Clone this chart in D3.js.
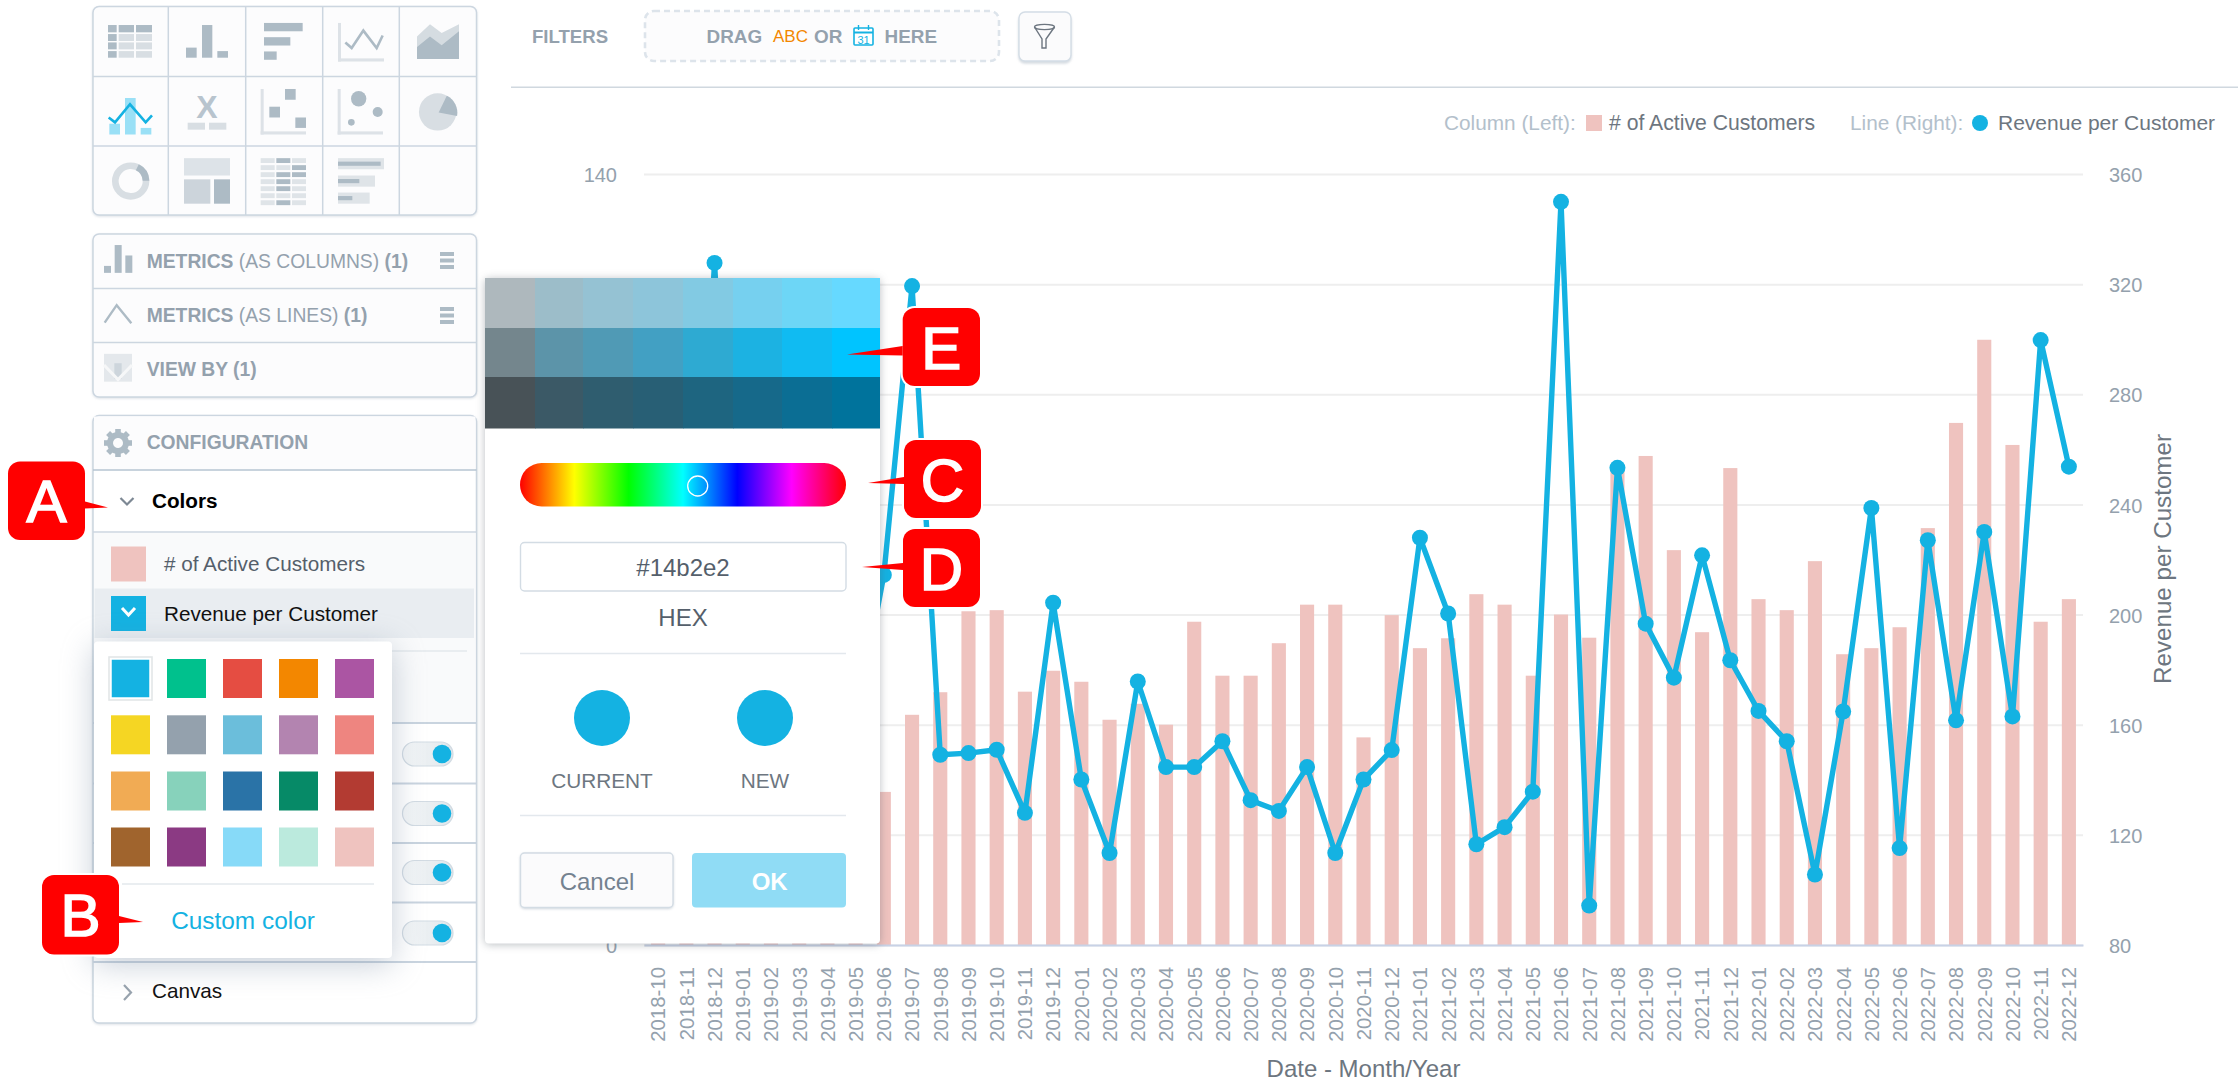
<![CDATA[<!DOCTYPE html>
<html><head><meta charset="utf-8">
<script src="https://cdn.jsdelivr.net/npm/d3@7/dist/d3.min.js"></script>
<style>
html,body{margin:0;padding:0;background:#fff;overflow:hidden}
svg{display:block;font-family:"Liberation Sans",Arial,sans-serif}
</style></head><body><svg id="c" width="2238" height="1090"></svg>
<script>
const months=["2018-10","2018-11","2018-12","2019-01","2019-02","2019-03","2019-04","2019-05","2019-06","2019-07","2019-08","2019-09","2019-10","2019-11","2019-12","2020-01","2020-02","2020-03","2020-04","2020-05","2020-06","2020-07","2020-08","2020-09","2020-10","2020-11","2020-12","2021-01","2021-02","2021-03","2021-04","2021-05","2021-06","2021-07","2021-08","2021-09","2021-10","2021-11","2021-12","2022-01","2022-02","2022-03","2022-04","2022-05","2022-06","2022-07","2022-08","2022-09","2022-10","2022-11","2022-12"];
const activeCustomers=[30,32,34,30,28,31,29,30,27.8,41.8,45.9,60.6,60.8,46,49.8,47.8,40.9,43.8,40,58.7,48.9,48.9,54.8,61.8,61.8,37.7,59.9,53.9,55.7,63.7,61.8,48.9,60,55.8,86.6,88.8,71.7,56.8,86.6,62.8,60.8,69.7,52.8,53.9,57.7,75.7,94.8,109.9,90.8,58.7,62.8];
const revenuePerCustomer=[170,150,327.7,140,130,150,130,160,214.4,319.3,149.1,149.7,150.9,128,204.3,140.1,113.4,175.7,144.6,144.6,154,132.6,128.7,144.6,113.4,140.1,150.8,227.9,200.4,116.6,122.8,135.7,349.9,94.3,253.3,196.7,177.1,221.5,183.4,165,154,105.6,164.8,238.7,115.2,227,161.6,230,163,299.7,253.7];
const leftTicks=[0,20,40,60,80,100,120,140];
const rightTicks=[80,120,160,200,240,280,320,360];
const paletteColors=["#14b2e2","#00c18d","#e54d42","#f38700","#ab55a3","#f5d623","#94a1ad","#6bbedb","#b384b0","#ee8580","#f1ab54","#87d2bb","#2a73a7","#068a67","#b33b32","#a0642d","#8b3a83","#87daf8","#bbeadd","#efc3bf"];
const shadeColors=["#aeb8bd","#9cbdc9","#95c2d3","#8dc5da","#82cae3","#76d0ef","#6dd6f6","#66d9ff","#74868d","#5c94a9","#509ab5","#42a0c3","#2eaad2","#1cb2e2","#10bbf2","#00c4ff","#485257","#3b5966","#2f5d6f","#285f75","#1e6580","#16698a","#0b6e94","#00739c"];
const seriesNames=["# of Active Customers","Revenue per Customer"];

const BLUE="#14b2e2",PINK="#efc3bf",GREY="#94a1ad",DARK="#6d7680",DK="#adbbc5",LT="#d8dee3",BORDER="#ccd6e0";
const svg=d3.select("#c");
const defs=svg.append("defs");
const hue=defs.append("linearGradient").attr("id","hue");
["#ff0000","#ffff00","#00ff00","#00ffff","#0000ff","#ff00ff","#ff0000"].forEach((c,i)=>hue.append("stop").attr("offset",i/6).attr("stop-color",c));
const tog=defs.append("linearGradient").attr("id","tog");
tog.append("stop").attr("offset",0).attr("stop-color","#f6f8f9");
tog.append("stop").attr("offset",1).attr("stop-color","#dfe6eb");

const rect=(g,x0,y0,x1,y1,fill,o={})=>{const r=g.append("rect").attr("x",x0).attr("y",y0).attr("width",x1-x0).attr("height",y1-y0).attr("fill",fill);for(const k in o){k==="style"?r.attr("style",o[k]):r.attr(k,o[k]);}return r;};
const text=(g,x,y,s,size,fill,o={})=>{const t=g.append("text").attr("x",x).attr("y",y).attr("font-size",size).attr("fill",fill).text(s);for(const k in o)t.attr(k,o[k]);return t;};
const hline=(g,x0,x1,y,c,w=1.5)=>g.append("line").attr("x1",x0).attr("x2",x1).attr("y1",y).attr("y2",y).attr("stroke",c).attr("stroke-width",w);
const vline=(g,x,y0,y1,c,w=1.5)=>g.append("line").attr("x1",x).attr("x2",x).attr("y1",y0).attr("y2",y1).attr("stroke",c).attr("stroke-width",w);

// ---------- chart ----------
const px0=644,px1=2083,py0=945,py1=174;
const x=d3.scaleBand().domain(months).range([px0,px1]).paddingInner(.5).paddingOuter(.25);
const yL=d3.scaleLinear().domain([0,140]).range([py0,py1]);
const yR=d3.scaleLinear().domain([80,360]).range([py0,py1]);
const chart=svg.append("g");

const gl=chart.append("g").attr("transform",`translate(${px0},0)`).call(d3.axisLeft(yL).tickValues(leftTicks).tickSize(-(px1-px0)).tickPadding(27));
gl.select(".domain").remove();
gl.selectAll("line").attr("stroke","#eeeeee").attr("stroke-width",2);
gl.selectAll("text").attr("font-size",20).attr("font-family","Liberation Sans").attr("fill",GREY).attr("dy",".38em");
const gr=chart.append("g").attr("transform",`translate(${px1},0)`).call(d3.axisRight(yR).tickValues(rightTicks).tickSize(0).tickPadding(26));
gr.select(".domain").remove();
gr.selectAll("text").attr("font-size",20).attr("font-family","Liberation Sans").attr("fill",GREY).attr("dy",".38em");

chart.append("g").selectAll("rect").data(months).join("rect")
 .attr("x",d=>x(d)).attr("width",x.bandwidth())
 .attr("y",(d,i)=>yL(activeCustomers[i])).attr("height",(d,i)=>py0-yL(activeCustomers[i])).attr("fill",PINK);

const gx=chart.append("g").attr("transform",`translate(0,${py0})`).call(d3.axisBottom(x).tickSize(0));
gx.select(".domain").attr("stroke","#c8d2e6").attr("stroke-width",2);
gx.selectAll("text").attr("font-size",20.4).attr("font-family","Liberation Sans").attr("fill",GREY)
 .attr("transform","rotate(-90)").attr("text-anchor","end").attr("x",-22).attr("y",0).attr("dy",".36em");

const line=d3.line().x((d,i)=>x(months[i])+x.bandwidth()/2).y(d=>yR(d));
chart.append("path").datum(revenuePerCustomer).attr("d",line).attr("fill","none").attr("stroke",BLUE).attr("stroke-width",5.4).attr("stroke-linejoin","round");
chart.append("g").selectAll("circle").data(revenuePerCustomer).join("circle")
 .attr("cx",(d,i)=>x(months[i])+x.bandwidth()/2).attr("cy",d=>yR(d)).attr("r",8).attr("fill",BLUE);

text(chart,(px0+px1)/2,1077,"Date - Month/Year",24,DARK,{"text-anchor":"middle"});
text(chart,0,0,"Revenue per Customer",24.2,DARK,{"text-anchor":"middle",transform:"translate(2171,559) rotate(-90)"});

// legend
const lg=svg.append("g");
text(lg,1444,130,"Column (Left):",20.8,"#b3c0cb");
rect(lg,1586,115,1602,131,PINK);
text(lg,1609,130,seriesNames[0],21.2,DARK);
text(lg,1850,130,"Line (Right):",20.8,"#b3c0cb");
lg.append("circle").attr("cx",1980).attr("cy",123).attr("r",8).attr("fill",BLUE);
text(lg,1998,130,seriesNames[1],21,DARK);

// ---------- top bar ----------
const topBar=svg.append("g");
hline(topBar,511,2238,87.3,"#d0d8df",1.6);
const bold={"font-weight":"bold"};
text(topBar,532,42.7,"FILTERS",18.6,GREY,bold);
rect(topBar,645,11,999,61,"#fcfcfd",{rx:9,stroke:"#dde4eb","stroke-width":2.6,"stroke-dasharray":"6 4"});
text(topBar,706.5,43,"DRAG",18.9,GREY,bold);
text(topBar,773,41.5,"ABC",17,"#f38700");
text(topBar,814,43,"OR",18.9,GREY,bold);
text(topBar,884.5,43,"HERE",18.9,GREY,bold);
const cal=topBar.append("g");
rect(cal,854,28,873,45,"#fff",{stroke:BLUE,"stroke-width":1.6,rx:1});
hline(cal,854,873,32.5,BLUE,2);
vline(cal,858.5,25,30,BLUE,1.4);vline(cal,868.5,25,30,BLUE,1.4);
text(cal,863.5,44,"31",11,BLUE,{"text-anchor":"middle"});
rect(topBar,1019,12,1071,61,"#fbfbfc",{rx:6,stroke:"#d4dde6","stroke-width":1.4,style:"filter:drop-shadow(0 2px 1px rgba(120,140,160,.3))"});
topBar.append("ellipse").attr("cx",1044.5).attr("cy",27).attr("rx",10).attr("ry",2.6).attr("fill","none").attr("stroke","#6d7680").attr("stroke-width",1.4);
topBar.append("path").attr("d","M1034.5 27 L1042 39 L1042 48 L1046 48 L1046 39 L1054.5 27").attr("fill","none").attr("stroke","#6d7680").attr("stroke-width",1.4);

// ---------- sidebar: chart types ----------
const side=svg.append("g");
const sx=v=>v/3, sy=v=>v/2.877;
const Z=(g,a,b,c,d,f)=>rect(g,sx(a),sy(b),sx(c),sy(d),f);
const poly=(g,pts,f,o={})=>{const p=g.append("path").attr("d","M"+pts.map(q=>sx(q[0])+" "+sy(q[1])).join("L")).attr("fill",f);for(const k in o)p.attr(k,o[k]);return p;};
rect(side,93,6.5,476.5,215,"#fcfcfd",{rx:6,stroke:BORDER,"stroke-width":1.5,style:"filter:drop-shadow(0 1px 1px rgba(120,140,160,.25))"});
[168.3,245.7,322.7,399.3].forEach(v=>vline(side,v,6.5,215,BORDER));
[76.5,146].forEach(v=>hline(side,93,476.5,v,BORDER));
// table
[[72,93],[98,118],[122,142],[147,166]].forEach((r,i)=>[[324,350],[356,402],[408,456]].forEach((c,j)=>Z(side,c[0],r[0],c[1],r[1],(i===0||j===0)?DK:LT)));
// columns
Z(side,558,137,590,166,DK);Z(side,606,72,637,166,DK);Z(side,652,147,684,166,DK);
// bars
Z(side,792,66,908,90,DK);Z(side,792,107,871,131,DK);Z(side,792,148,830,172,DK);
// line
const ax=(a,b,c,d)=>{Z(side,a,b,a+9,d,"#dde2e7");Z(side,a,d-9,c,d,"#dde2e7");};
ax(1014,66,1152,177);
poly(side,[[1036,122],[1055,138],[1090,88],[1130,138],[1148,102]],"none",{stroke:DK,"stroke-width":2.6});
// area
poly(side,[[1251,105],[1290,70],[1325,95],[1377,70],[1377,170],[1251,170]],"#d5dce1");
poly(side,[[1251,135],[1290,105],[1325,130],[1377,90],[1377,170],[1251,170]],DK);
// combo
Z(side,328,356,360,387,"#9ae0f6");Z(side,375,282,407,387,"#9ae0f6");Z(side,422,368,454,387,"#9ae0f6");
poly(side,[[326,338],[345,352],[390,300],[437,352],[456,332]],"none",{stroke:BLUE,"stroke-width":2.6});
// X
text(side,207,117.5,"X",32,"#b8c4ce",{"text-anchor":"middle","font-weight":"bold"});
Z(side,563,353,615,373,LT);Z(side,627,353,679,373,LT);
// scatter
ax(782,256,918,387);
Z(side,855,256,887,287,DK);Z(side,808,307,840,338,DK);Z(side,886,338,918,368,DK);
// bubble
ax(1013,256,1149,387);
[[1076,284,23],[1133,322,15],[1054,352,10]].forEach(c=>side.append("ellipse").attr("cx",sx(c[0])).attr("cy",sy(c[1])).attr("rx",c[2]/3).attr("ry",c[2]/3).attr("fill",DK));
// pie
side.append("circle").attr("cx",sx(1313)).attr("cy",sy(322)).attr("r",18.7).attr("fill",LT);
side.append("path").attr("d",d3.arc()({innerRadius:0,outerRadius:18.7,startAngle:.45,endAngle:1.75})).attr("transform",`translate(${sx(1316)},${sy(324)})`).attr("fill",DK);
// donut
side.append("path").attr("d",d3.arc()({innerRadius:12,outerRadius:18.7,startAngle:0,endAngle:7})).attr("transform",`translate(${sx(392)},${sy(521)})`).attr("fill",LT);
side.append("path").attr("d",d3.arc()({innerRadius:12,outerRadius:18.7,startAngle:.45,endAngle:1.55})).attr("transform",`translate(${sx(392)},${sy(521)})`).attr("fill",DK);
// treemap
Z(side,552,455,690,505,"#dde3e8");Z(side,552,516,631,586,"#ccd4db");Z(side,642,516,690,586,DK);
// heatmap
const hm=[[0,1,0],[0,0,1],[0,1,1],[0,1,0],[0,1,0],[0,0,0],[0,1,0]];
hm.forEach((r,i)=>r.forEach((v,j)=>{const y=455+i*20.2;Z(side,[782,829,876][j],y,[824,871,918][j],y+14,v?DK:"#dfe4e8");}));
// bullet
[[455,487,1152,1142],[505,537,1125,1078],[554,586,1109,1057]].forEach(b=>{Z(side,1014,b[0],b[2],b[1],"#dfe4e8");Z(side,1014,b[0]+10,b[3],b[1]-10,DK);});

// ---------- sidebar: buckets ----------
rect(side,93,234,476.5,397,"#fcfcfd",{rx:6,stroke:BORDER,"stroke-width":1.5,style:"filter:drop-shadow(0 1px 1px rgba(120,140,160,.25))"});
hline(side,93,476.5,288.5,BORDER);hline(side,93,476.5,342.4,BORDER);
Z(side,312,765,333,785,DK);Z(side,344,705,365,785,DK);Z(side,376,735,397,785,DK);
poly(side,[[314,928],[350,878],[394,930]],"none",{stroke:DK,"stroke-width":2.4});
Z(side,312,1018,396,1098,"#e4e8ec");Z(side,343,1045,365,1090,"#cdd5dc");
poly(side,[[312,1050],[354,1092],[396,1050]],"none",{stroke:"#f6f7f8","stroke-width":3});
const lab=(y,parts)=>{const t=side.append("text").attr("x",146.7).attr("y",y).attr("font-size",19.3).attr("fill",GREY);parts.forEach(p=>t.append("tspan").attr("font-weight",p[1]?"bold":"normal").text(p[0]));};
lab(267.6,[["METRICS ",1],["(AS COLUMNS) ",0],["(1)",1]]);
lab(322,[["METRICS ",1],["(AS LINES) ",0],["(1)",1]]);
lab(376.4,[["VIEW BY (1)",1]]);
[[252,258.5,265],[307,313.5,320]].forEach(a=>a.forEach(y=>rect(side,440,y,454,y+4,DK)));

// ---------- sidebar: configuration ----------
rect(side,93,415.5,476.5,1023,"#fff",{rx:6,stroke:BORDER,"stroke-width":1.5,style:"filter:drop-shadow(0 1px 1px rgba(120,140,160,.25))"});
rect(side,94,416.5,475.5,469,"#fcfcfd");
lab(449,[["CONFIGURATION",1]]);
const gear=side.append("g").attr("transform","translate(118,443)");
gear.append("path").attr("d",d3.arc()({innerRadius:5,outerRadius:11,startAngle:0,endAngle:7})).attr("fill",DK);
d3.range(8).forEach(i=>gear.append("rect").attr("x",-2.8).attr("y",-14).attr("width",5.6).attr("height",6).attr("fill",DK).attr("transform",`rotate(${i*45})`));
hline(side,93,476.5,470,"#b6c4d2",1.6);
hline(side,93,476.5,532,BORDER);
text(side,152,507.7,"Colors",20.7,"#000",bold);
const chev=(g,pts,c)=>g.append("path").attr("d","M"+pts.map(q=>q.join(" ")).join("L")).attr("fill","none").attr("stroke",c).attr("stroke-width",2.2);
chev(side,[[120.5,498],[127,504.5],[133.5,498]],"#7d8894");
rect(side,94,533,475.5,722,"#f9fafb");
rect(side,111,546.5,146,581.5,PINK);
text(side,164,571.3,seriesNames[0],20.7,"#555f6b");
rect(side,94.5,588.5,474,638,"#e9edf1");
rect(side,111,596,146,631,BLUE);
chev(side,[[122,608],[128.5,615],[135,608]],"#fff").attr("stroke-width",3);
text(side,164,621,seriesNames[1],20.7,"#111");
hline(side,100,467,651,"#e3e8ed");
[723,783.5,843,902.5,962].forEach(y=>hline(side,93,476.5,y,"#c9d4df",1.8));
[754,813.5,872.5,933].forEach(y=>{
 rect(side,402.5,y-12,453,y+12,"url(#tog)",{rx:12,stroke:"#d2dbe3","stroke-width":1.2});
 side.append("circle").attr("cx",442).attr("cy",y).attr("r",9.3).attr("fill",BLUE);
});
text(side,152,998,"Canvas",20.7,"#111");
chev(side,[[124,985],[131,992.5],[124,1000]],"#98a3ae");

// ---------- colour dropdown ----------
const dd=svg.append("g");
rect(dd,94,641.5,392,958,"#fff",{rx:4,style:"filter:drop-shadow(0 6px 16px rgba(110,130,155,.4))"});
const cols=[111,167,223,279,335],rows=[659,715.3,771.5,827.5];
const swatch=dd.append("g").selectAll("rect").data(paletteColors).join("rect")
 .attr("x",(d,i)=>cols[i%5]).attr("y",(d,i)=>rows[Math.floor(i/5)]).attr("width",39).attr("height",39).attr("fill",d=>d);
rect(dd,109,657,152,700,"none",{stroke:"#e3e6e8","stroke-width":1.6});
swatch.filter((d,i)=>i===0).attr("stroke","#fff").attr("stroke-width",1.5);
hline(dd,122,374,884,"#e3e8ed");
text(dd,243,928.5,"Custom color",24.4,BLUE,{"text-anchor":"middle"});

// ---------- colour picker ----------
const cp=svg.append("g");
rect(cp,485,278,880,943.5,"#fff",{rx:4,style:"filter:drop-shadow(0 1px 4px rgba(80,90,100,.4))"});
const xs=[485,535,583,633,683,733,782,832,880],ys=[278,328,377,428];
const shades=cp.append("g");
shades.selectAll("rect").data(shadeColors).join("rect")
 .attr("x",(d,i)=>xs[i%8]).attr("y",(d,i)=>ys[Math.floor(i/8)])
 .attr("width",(d,i)=>xs[i%8+1]-xs[i%8]+(i%8<7?.5:0)).attr("height",(d,i)=>ys[Math.floor(i/8)+1]-ys[Math.floor(i/8)]+.5).attr("fill",d=>d);
rect(cp,520,463,846,506.5,"url(#hue)",{rx:21.7});
cp.append("circle").attr("cx",697.7).attr("cy",486).attr("r",10).attr("fill","none").attr("stroke","#fff").attr("stroke-width",1.3);
rect(cp,520.5,542.5,846,591,"#fff",{rx:4,stroke:"#d3dce4","stroke-width":1.4});
text(cp,683,576,"#14b2e2",24,"#555f6b",{"text-anchor":"middle"});
text(cp,683,626,"HEX",24,"#555f6b",{"text-anchor":"middle"});
hline(cp,520,846,653.4,"#e3e8ed");hline(cp,520,846,815.5,"#e3e8ed");
[602,765].forEach(v=>cp.append("circle").attr("cx",v).attr("cy",718).attr("r",28).attr("fill",BLUE));
text(cp,602,787.5,"CURRENT",20.8,DARK,{"text-anchor":"middle"});
text(cp,765,787.5,"NEW",20.8,DARK,{"text-anchor":"middle"});
rect(cp,520.5,853,673,907.5,"#fbfbfc",{rx:4,stroke:"#d3dce4","stroke-width":1.4,style:"filter:drop-shadow(0 1px 1px rgba(120,140,160,.3))"});
text(cp,597,890,"Cancel",24,"#748290",{"text-anchor":"middle"});
rect(cp,692,853,846,907.5,"#90dcf5",{rx:4});
text(cp,769.7,890,"OK",24,"#fff",{"text-anchor":"middle","font-weight":"bold"});

// ---------- callouts ----------
const callouts=[
 {s:"A",b:[8,461.6,85,540],tip:[108,507.5],base:[501.5,508.5],dir:1},
 {s:"B",b:[42,875,119,954.5],tip:[143,922],base:[916,923],dir:1},
 {s:"E",b:[902.7,308,980,386],tip:[847,354.6],base:[346,355.5],dir:-1},
 {s:"C",b:[904,440,981,518],tip:[868,483],base:[477,484],dir:-1},
 {s:"D",b:[903,529,980,607],tip:[862,567],base:[563,570],dir:-1}];
const cg=svg.append("g");
callouts.forEach(c=>{
 const [a,b,e,f]=c.b,bx=c.dir>0?e:a;
 const g=cg.append("g");
 rect(g,a,b,e,f,"#fff",{rx:12,stroke:"#fff","stroke-width":4});
 g.append("path").attr("d",`M${bx} ${c.base[0]}L${c.tip[0]} ${c.tip[1]}L${bx} ${c.base[1]}Z`).attr("fill","#f00");
 rect(g,a,b,e,f,"#f00",{rx:12});
 text(g,(a+e)/2,(b+f)/2+21.5,c.s,60,"#fff",{"text-anchor":"middle",stroke:"#fff","stroke-width":1.6});
});
</script></body></html>]]>
